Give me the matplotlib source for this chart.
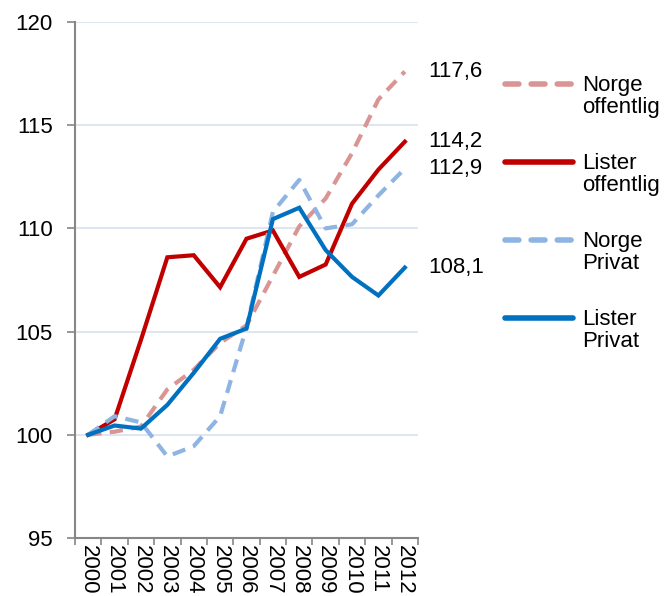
import matplotlib
matplotlib.use("Agg")
import matplotlib.pyplot as plt
from matplotlib.lines import Line2D

plt.rcParams["font.family"] = ["Liberation Sans", "DejaVu Sans"]

years = [str(y) for y in range(2000, 2013)]
norge_offentlig = [100.0, 100.15, 100.4, 102.2, 103.15, 104.45, 105.3, 107.7, 110.1, 111.45, 113.65, 116.25, 117.6]
lister_offentlig = [100.0, 100.75, 104.6, 108.6, 108.7, 107.15, 109.5, 109.9, 107.65, 108.25, 111.2, 112.85, 114.2]
norge_privat = [100.0, 100.9, 100.6, 98.95, 99.45, 100.9, 105.2, 110.8, 112.35, 110.0, 110.2, 111.6, 112.9]
lister_privat = [100.0, 100.45, 100.3, 101.45, 103.0, 104.65, 105.15, 110.45, 111.0, 108.95, 107.65, 106.75, 108.1]

series = [
    ("Norge\noffentlig", norge_offentlig, "#D99594", "dashed"),
    ("Lister\noffentlig", lister_offentlig, "#C00000", "solid"),
    ("Norge\nPrivat", norge_privat, "#8DB4E2", "dashed"),
    ("Lister\nPrivat", lister_privat, "#0070C0", "solid"),
]

FS = 16

fig = plt.figure(figsize=(6.67, 5.96), dpi=100)
ax = fig.add_axes([75 / 667, 1 - 538 / 596, (418 - 75) / 667, (538 - 22) / 596])

x = list(range(len(years)))
for label, vals, color, style in series:
    if style == "dashed":
        ax.plot(x, vals, color=color, lw=3, dashes=(3.2, 2), solid_capstyle="butt")
    else:
        ax.plot(x, vals, color=color, lw=3, solid_joinstyle="miter")

# end value labels
for label, vals, color, style in series:
    ax.annotate(f"{vals[-1]:.1f}".replace(".", ","), xy=(x[-1], vals[-1]),
                xytext=(17, 0), textcoords="offset points",
                ha="left", va="center", fontsize=FS, annotation_clip=False)

ax.set_xlim(-0.5, len(years) - 0.5)
ax.set_ylim(95, 120)
ax.set_yticks([95, 100, 105, 110, 115, 120])
ax.set_xticks(x)
ax.set_xticklabels(years, rotation=270, fontsize=FS)
ax.set_xticks([i - 0.5 for i in range(len(years) + 1)], minor=True)
ax.tick_params(axis="x", which="major", length=0, pad=5)
ax.tick_params(axis="x", which="minor", length=5, color="#868686", width=1.2)
ax.tick_params(axis="y", length=6, color="#868686", width=1.2, labelsize=FS, pad=10)

ax.grid(axis="y", color="#D9E1F0", lw=1.2)
ax.set_axisbelow(True)
for side in ["top", "right"]:
    ax.spines[side].set_visible(False)
for side in ["left", "bottom"]:
    ax.spines[side].set_color("#868686")
    ax.spines[side].set_linewidth(1.5)

# legend on the right
leg_y = [84, 162, 240, 318]
for (label, vals, color, style), y in zip(series, leg_y):
    fy = 1 - y / 596
    ln = Line2D([505 / 667, 573 / 667], [fy, fy], color=color, lw=4,
                solid_capstyle="round", dash_capstyle="round")
    if style == "dashed":
        ln.set_dashes((2.5, 2.2))
    fig.add_artist(ln)
    fig.text(582 / 667, fy + 9 / 596, label, ha="left", va="top",
             fontsize=FS, linespacing=1.05)

fig.savefig("out.png", dpi=100)
